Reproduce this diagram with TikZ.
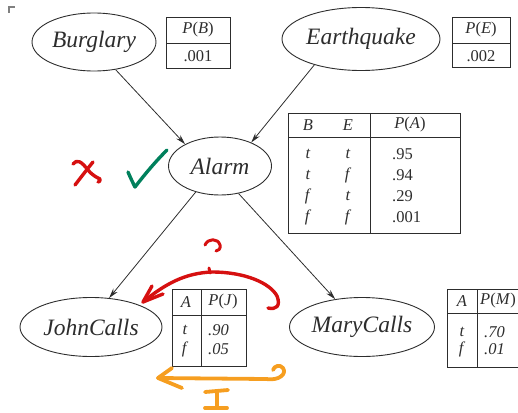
\documentclass[tikz,border=0pt]{standalone}
\usepackage{fontspec}
\setmainfont{Liberation Serif}
\usetikzlibrary{shapes.geometric,arrows.meta}
\definecolor{ink}{RGB}{45,45,45}
\definecolor{annred}{RGB}{214,16,16}
\definecolor{anngreen}{RGB}{0,128,92}
\definecolor{annorange}{RGB}{246,158,32}
\newcommand{\ellfont}{\fontsize{23.5}{28}\selectfont\itshape}
\newcommand{\tabfont}{\fontsize{16.5}{20}\selectfont}
\begin{document}
\begin{tikzpicture}[x=1pt,y=-1pt,
  bn/.style={ellipse, draw=ink, line width=0.9pt, inner sep=0pt, text=ink, font=\ellfont},
  cell/.style={inner sep=0pt, text=ink, font=\tabfont},
  tabline/.style={draw=ink, line width=0.9pt},
  edge/.style={draw=ink, line width=0.8pt, -{Stealth[length=10pt,width=5.5pt]}},
  pen/.style={line width=3.4pt, line cap=round, line join=round}]
\useasboundingbox (0,0) rectangle (518,412);
\clip (0,0) rectangle (518,412);
% small corner mark
\draw[gray, line width=1.1pt] (9,13) -- (9,7) -- (15,7);
% nodes
\node[bn, minimum width=124pt, minimum height=58pt] (burg) at (94,42) {Burglary};
\node[bn, minimum width=158pt, minimum height=63pt] (earth) at (361,39) {Earthquake};
\node[bn, minimum width=103pt, minimum height=58pt] (alarm) at (220,166) {Alarm};
\node[bn, minimum width=142pt, minimum height=59pt] (john) at (91,327) {JohnCalls};
\node[bn, minimum width=145pt, minimum height=59pt] (mary) at (362,327) {MaryCalls};
% connectors
\draw[edge] (burg.-52) -- (alarm.148);
\draw[edge] (earth.209) -- (alarm.37);
\draw[edge] (alarm.227) -- (john.58);
\draw[edge] (alarm.-56) -- (mary.134);
% table P(B)
\draw[tabline] (166,17) rectangle (230,68);
\draw[tabline] (166,43) -- (230,43);
\node[cell] (pb) at (198,30) {\textit{P}(\textit{B})};
\node[cell] (pbv) at (198,56) {.001};
% table P(E)
\draw[tabline] (452,17) rectangle (510,67);
\draw[tabline] (452,43) -- (510,43);
\node[cell] (pe) at (481,30) {\textit{P}(\textit{E})};
\node[cell] (pev) at (481,56) {.002};
% table P(A)
\draw[tabline] (288,113) rectangle (460,233);
\draw[tabline] (288,137) -- (460,137);
\draw[tabline] (370,113) -- (370,233);
\node[cell] (hb) at (308,125) {\textit{B}};
\node[cell] (he) at (348,125) {\textit{E}};
\node[cell] (hpa) at (410,125) {\textit{P}(\textit{A})};
\node[cell] (b1) at (308,154) {\textit{t}};
\node[cell] (e1) at (348,154) {\textit{t}};
\node[cell, anchor=west] (a1) at (392,154) {.95};
\node[cell] (b2) at (308,175) {\textit{t}};
\node[cell] (e2) at (348,175) {\textit{f}};
\node[cell, anchor=west] (a2) at (392,175) {.94};
\node[cell] (b3) at (308,196) {\textit{f}};
\node[cell] (e3) at (348,196) {\textit{t}};
\node[cell, anchor=west] (a3) at (392,196) {.29};
\node[cell] (b4) at (308,217) {\textit{f}};
\node[cell] (e4) at (348,217) {\textit{f}};
\node[cell, anchor=west] (a4) at (392,217) {.001};
% table P(J)
\draw[tabline] (172,289) rectangle (246,366);
\draw[tabline] (172,315) -- (246,315);
\draw[tabline] (201,289) -- (201,366);
\node[cell] (ja) at (186,302) {\textit{A}};
\node[cell] (jp) at (223,302) {\textit{P}(\textit{J})};
\node[cell] (jt) at (185,330) {\textit{t}};
\node[cell] (jf) at (185,349) {\textit{f}};
\node[cell, anchor=west] (jv1) at (208,330) {\textit{.90}};
\node[cell, anchor=west] (jv2) at (208,349) {\textit{.05}};
% table P(M)
\draw[tabline] (530,289) -- (447,289) -- (447,367) -- (530,367);
\draw[tabline] (447,313) -- (530,313);
\draw[tabline] (477,289) -- (477,367);
\node[cell] (ma) at (462,301) {\textit{A}};
\node[cell, anchor=west] (mp) at (480,301) {\textit{P}(\textit{M})};
\node[cell] (mt) at (462,332) {\textit{t}};
\node[cell] (mf) at (462,349) {\textit{f}};
\node[cell, anchor=west] (mv1) at (484,332) {\textit{.70}};
\node[cell, anchor=west] (mv2) at (484,349) {\textit{.01}};
% red cross
\draw[pen, annred] (73,164) .. controls (77,159) and (81,161) .. (88,170)
  .. controls (93,176) and (98,178) .. (100,179) .. controls (101,181) and (99,182) .. (98,182);
\draw[pen, annred] (93,162) .. controls (88,168) and (82,176) .. (75,185);
% green check
\draw[pen, anngreen] (128,172) .. controls (131,179) and (133,183) .. (135,187)
  .. controls (145,174) and (156,161) .. (167,150);
% red question mark
\draw[pen, annred, line width=3pt] (205,245) .. controls (208,238) and (218,238) .. (220,245)
  .. controls (221,249) and (218,251) .. (216,251);
\draw[pen, annred, line width=3pt] (209,268) -- (210,273);
% red double arrow
\draw[pen, annred] (143,302) .. controls (165,284) and (185,273) .. (212,272)
  .. controls (245,272) and (270,283) .. (277,296)
  .. controls (281,306) and (276,310) .. (268,308);
\draw[pen, annred] (152,286) -- (143,302) -- (163,294);
% orange arrow
\draw[pen, annorange, line width=3.8pt] (158,378) -- (266,379)
  .. controls (279,381) and (287,374) .. (283,368) .. controls (280,364) and (274,366) .. (273,370);
\draw[pen, annorange, line width=3.8pt] (172,368) -- (158,378) -- (182,388);
% orange I
\draw[pen, annorange, line width=3.8pt] (205,392) -- (228,390);
\draw[pen, annorange, line width=3.8pt] (217,392) -- (217,408);
\draw[pen, annorange, line width=3.8pt] (205,408) -- (227,408);
\end{tikzpicture}
\end{document}
